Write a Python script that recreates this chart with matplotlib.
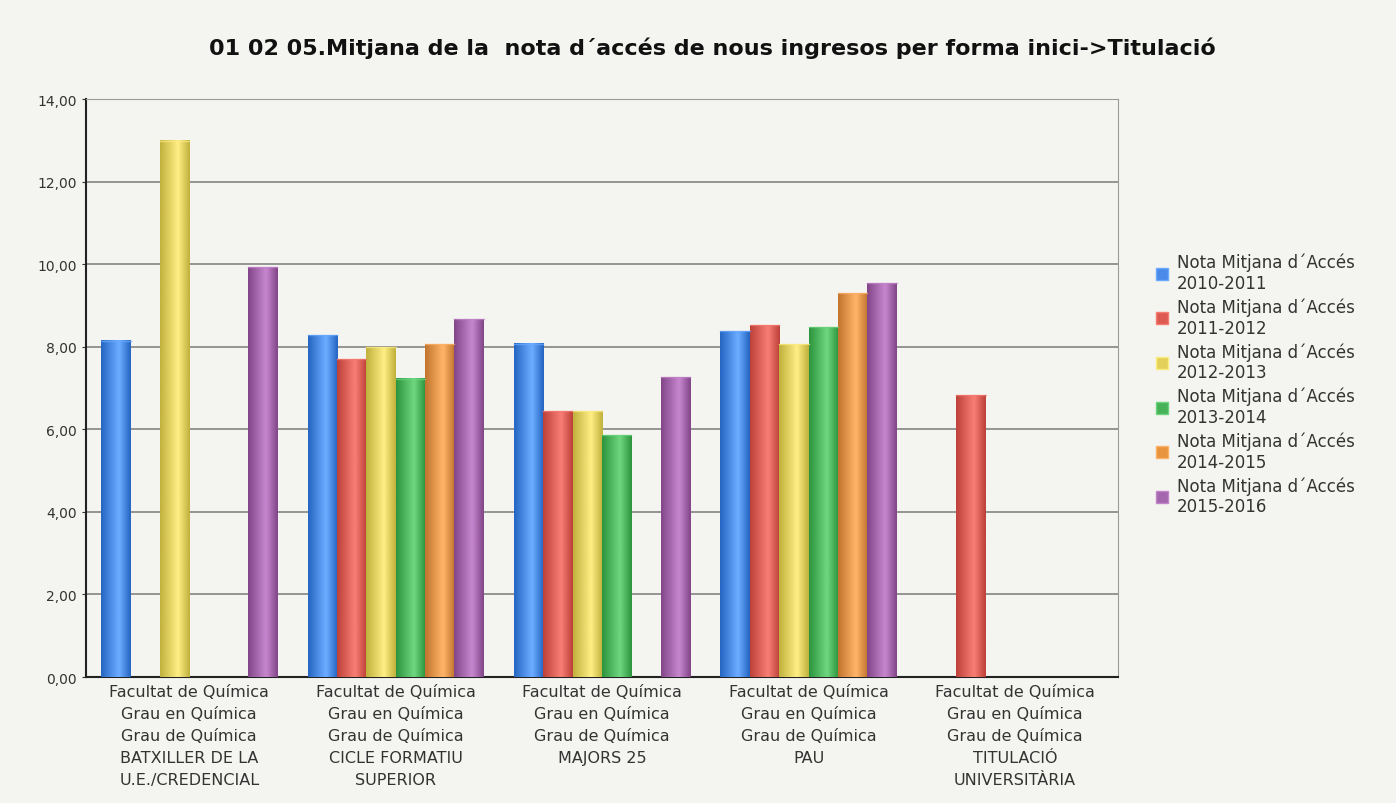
import numpy as np
import matplotlib.pyplot as plt
from matplotlib.colors import LinearSegmentedColormap
from matplotlib.patches import Patch

# categories (x axis) and series
categories = [
    "Facultat de Química\nGrau en Química\nGrau de Química\nBATXILLER DE LA\nU.E./CREDENCIAL",
    "Facultat de Química\nGrau en Química\nGrau de Química\nCICLE FORMATIU\nSUPERIOR",
    "Facultat de Química\nGrau en Química\nGrau de Química\nMAJORS 25",
    "Facultat de Química\nGrau en Química\nGrau de Química\nPAU",
    "Facultat de Química\nGrau en Química\nGrau de Química\nTITULACIÓ\nUNIVERSITÀRIA",
]
series_names = [
    "Nota Mitjana d´Accés\n2010-2011",
    "Nota Mitjana d´Accés\n2011-2012",
    "Nota Mitjana d´Accés\n2012-2013",
    "Nota Mitjana d´Accés\n2013-2014",
    "Nota Mitjana d´Accés\n2014-2015",
    "Nota Mitjana d´Accés\n2015-2016",
]
nan = np.nan
v2010 = [8.14, 8.28, 8.07, 8.38, nan]
v2011 = [nan, 7.70, 6.44, 8.52, 6.83]
v2012 = [12.99, 7.99, 6.44, 8.06, nan]
v2013 = [nan, 7.22, 5.86, 8.47, nan]
v2014 = [nan, 8.06, nan, 9.30, nan]
v2015 = [9.93, 8.67, 7.26, 9.54, nan]
values = [v2010, v2011, v2012, v2013, v2014, v2015]

# edge (dark) / centre (light) colours for the cylinder look
edge_cols = ["#2767c4", "#bf423b", "#c2b23e", "#2e963e", "#c47630", "#84488a"]
mid_cols = ["#4a8ae8", "#dc5a52", "#e2d05a", "#48b258", "#e8943e", "#a466ae"]
light_cols = ["#69aaff", "#f67c72", "#fcec82", "#6cd47c", "#fcb266", "#c484cc"]

bg = "#f4f4f0"
fig = plt.figure(figsize=(13.96, 8.04), dpi=100, facecolor=bg)
ax = fig.add_axes([0.0616, 0.1567, 0.7394, 0.7189], facecolor=bg)

x = np.arange(len(categories))
w = 0.853 / 6
profile = np.concatenate([np.linspace(0, 1, 12), np.linspace(1, 0, 8)])
for i, vals in enumerate(values):
    cmap = LinearSegmentedColormap.from_list(
        "c%d" % i, [edge_cols[i], light_cols[i]])
    pos = x + (i - 2.5) * w
    bars = ax.bar(pos, np.nan_to_num(vals), w, color=mid_cols[i],
                  edgecolor="none", zorder=2)
    for b, v in zip(bars, vals):
        if np.isnan(v):
            continue
        x0 = b.get_x()
        ax.imshow(profile[np.newaxis, :], cmap=cmap, aspect="auto",
                  extent=(x0, x0 + w, 0, v), zorder=3, interpolation="bilinear")
        ax.plot([x0, x0 + w], [v, v], color=light_cols[i], lw=1, zorder=4, alpha=0.7)

ax.set_xlim(-0.5, len(categories) - 0.5)
ax.set_ylim(0, 14)
ax.set_yticks(np.arange(0, 15, 2))
ax.set_yticklabels([("%.2f" % t).replace(".", ",") for t in np.arange(0, 15, 2)],
                   fontsize=10, color="#333333")
ax.yaxis.grid(True, color="#8c8c8c", lw=1.3, zorder=1)
ax.set_axisbelow(True)
ax.set_xticks(x)
ax.set_xticklabels(categories, fontsize=11.5, color="#333333")
for t in ax.get_xticklabels():
    t.set_linespacing(1.58)
ax.tick_params(axis="x", length=0, pad=5)
ax.tick_params(axis="y", length=3, color="#333333")
for s in ["top", "right"]:
    ax.spines[s].set_color("#9a9a9a")
for s in ["left", "bottom"]:
    ax.spines[s].set_color("#222222")
    ax.spines[s].set_linewidth(1.5)

handles = [Patch(facecolor=mid_cols[i], edgecolor=light_cols[i]) for i in range(6)]
leg = fig.legend(handles, series_names, loc="center left", bbox_to_anchor=(0.817, 0.521),
                 frameon=False, fontsize=12, labelspacing=0.32, handlelength=0.75,
                 handleheight=0.75, handletextpad=0.55, labelcolor="#333333")
for t in leg.get_texts():
    t.set_linespacing(1.2)

fig.suptitle("01 02 05.Mitjana de la  nota d´accés de nous ingresos per forma inici->Titulació",
             x=0.51, y=0.94, va="center", fontsize=16, fontweight="bold", color="#111111")

fig.savefig("out.png", dpi=100, facecolor=bg)
